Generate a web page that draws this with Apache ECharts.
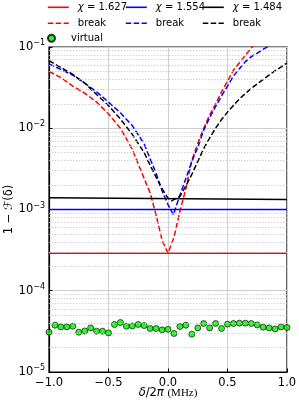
<!DOCTYPE html>
<html>
<head>
<meta charset="utf-8">
<script src="https://cdn.jsdelivr.net/npm/echarts@6/dist/echarts.min.js"></script>
<style>
html,body{margin:0;padding:0;background:#fff;}
#c{width:299px;height:403px;}
</style>
</head>
<body>
<div id="c"></div>
<script>
// ---- data ----
const solidX = [-1.0, 1.0];
const redSolidY = [2.9e-4, 2.9e-4];
const blueSolidY = [1.0e-3, 1.0e-3];
const blackSolidY = [1.40e-3, 1.33e-3];

const redDashX = [-1.0,-0.9,-0.8,-0.7,-0.6,-0.5,-0.4,-0.3,-0.2,-0.15,-0.1,-0.05,0.0,0.05,0.1,0.15,0.2,0.25,0.3,0.35,0.4,0.45,0.5,0.55,0.6,0.65,0.7,0.75];
const redDashY = [5.0e-2,4.2e-2,3.3e-2,2.7e-2,2.1e-2,1.5e-2,1.0e-2,5.5e-3,2.4e-3,1.6e-3,8.5e-4,4.2e-4,2.9e-4,4.5e-4,9.5e-4,1.8e-3,4.0e-3,6.5e-3,1.0e-2,1.45e-2,2.0e-2,2.8e-2,3.8e-2,5.2e-2,6.4e-2,7.9e-2,9.7e-2,1.15e-1];

const blueDashX = [-1.0,-0.9,-0.8,-0.7,-0.6,-0.5,-0.4,-0.3,-0.2,-0.15,-0.1,-0.05,0.0,0.045,0.1,0.15,0.2,0.25,0.3,0.35,0.4,0.45,0.5,0.55,0.6,0.65,0.7,0.75,0.8,0.85];
const blueDashY = [6.2e-2,5.3e-2,4.5e-2,3.6e-2,2.8e-2,2.1e-2,1.55e-2,1.08e-2,6.4e-3,4.2e-3,2.8e-3,1.7e-3,1.15e-3,8.6e-4,1.5e-3,2.4e-3,3.9e-3,5.8e-3,9.5e-3,1.35e-2,1.85e-2,2.5e-2,3.3e-2,4.4e-2,5.4e-2,6.6e-2,7.6e-2,8.4e-2,9.4e-2,1.03e-1];

const blackDashX = [-1.0,-0.9,-0.8,-0.7,-0.6,-0.5,-0.4,-0.3,-0.2,-0.15,-0.1,-0.05,0.0,0.03,0.1,0.15,0.2,0.25,0.3,0.35,0.4,0.45,0.5,0.6,0.7,0.8,0.9,1.0];
const blackDashY = [6.8e-2,5.6e-2,4.6e-2,3.6e-2,2.6e-2,1.9e-2,1.3e-2,8.4e-3,5.0e-3,3.5e-3,2.5e-3,1.8e-3,1.38e-3,1.28e-3,1.45e-3,1.95e-3,2.7e-3,3.9e-3,5.6e-3,7.6e-3,1.0e-2,1.28e-2,1.58e-2,2.3e-2,3.1e-2,4.0e-2,5.1e-2,6.35e-2];

const virtualX = [-1.0,-0.95,-0.9,-0.85,-0.8,-0.75,-0.7,-0.65,-0.6,-0.55,-0.5,-0.45,-0.4,-0.35,-0.3,-0.25,-0.2,-0.15,-0.1,-0.05,0.0,0.05,0.1,0.15,0.2,0.25,0.3,0.35,0.4,0.45,0.5,0.55,0.6,0.65,0.7,0.75,0.8,0.85,0.9,0.95,1.0];
const virtualY = [3.09e-5,3.77e-5,3.59e-5,3.59e-5,3.66e-5,3.09e-5,3.20e-5,3.49e-5,3.18e-5,3.18e-5,3.03e-5,3.84e-5,4.07e-5,3.66e-5,3.69e-5,3.84e-5,3.73e-5,3.43e-5,3.43e-5,3.30e-5,3.36e-5,2.98e-5,3.63e-5,3.77e-5,2.92e-5,3.49e-5,3.95e-5,3.49e-5,3.95e-5,3.43e-5,3.88e-5,3.95e-5,3.99e-5,3.99e-5,3.95e-5,3.80e-5,3.56e-5,3.49e-5,3.39e-5,3.59e-5,3.53e-5];

const minorGridVals = [];
[-5,-4,-3,-2].forEach(function(e){ for (let m=2;m<=9;m++) minorGridVals.push(m*Math.pow(10,e)); });

function zip(xs, ys){ return xs.map(function(x,i){ return [x, ys[i]]; }); }

const FONT = 'DejaVu Sans';
const dash = [5.5, 2.4];

const legendNames = {
  'chi1627': '{i|χ} = 1.627', 'chi1554': '{i|χ} = 1.554', 'chi1484': '{i|χ} = 1.484',
  'break1': 'break', 'break2': 'break', 'break3': 'break', 'virtual': 'virtual'
};
const legendRich = { i: { fontFamily: FONT, fontStyle: 'italic', fontSize: 10 } };
function mkLegend(left, top, names, ih, hideSymbol){
  const l = {
    left: left, top: top, orient: 'vertical', padding: 0,
    itemWidth: 21, itemHeight: ih, itemGap: 4,
    data: names,
    formatter: function(n){ return legendNames[n]; },
    textStyle: { fontFamily: FONT, fontSize: 10, color: '#000', lineHeight: 12, padding: [0,0,0,4], rich: legendRich },
    selectedMode: false
  };
  if (hideSymbol) {
    l.itemStyle = { color: 'rgba(0,0,0,0)', borderColor: 'rgba(0,0,0,0)', borderWidth: 0 };
    l.lineStyle = { width: 1.6 };
  }
  return l;
}

const chart = echarts.init(document.getElementById('c'), null, {renderer: 'canvas'});
const option = {
  animation: false,
  backgroundColor: '#fff',
  legend: [
    mkLegend(47, 1.3, ['chi1627','break1'], 12, true),
    mkLegend(125, 1.3, ['chi1554','break2'], 12, true),
    mkLegend(202, 1.3, ['chi1484','break3'], 12, true),
    mkLegend(47, 32.3, ['virtual'], 7, false)
  ],
  grid: { left: 49, right: 12, top: 47, bottom: 31, containLabel: false, outerBoundsMode: 'none',
          show: true, borderColor: '#000', borderWidth: 1.2, backgroundColor: 'transparent' },
  xAxis: {
    type: 'value', min: -1, max: 1, interval: 0.5,
    axisLine: { show: true, onZero: false, lineStyle: { color: '#000', width: 1.2 } },
    axisTick: { show: true, inside: true, length: 3.5, lineStyle: { color: '#000' } },
    axisLabel: { fontFamily: FONT, fontSize: 11.5, color: '#000', margin: 5,
      formatter: function(v){ return (v < 0 ? '\u2212' : '') + Math.abs(v).toFixed(1); } },
    splitLine: { show: true, lineStyle: { color: '#cfcfcf', width: 1 } },
    name: '{d|δ}{n|/2}{d|π} {m|(MHz)}',
    nameLocation: 'middle', nameGap: 15, nameMoveOverlap: false,
    nameTextStyle: { fontFamily: FONT, fontSize: 11.5, color: '#000',
      rich: { d: { fontFamily: FONT, fontStyle: 'italic', fontSize: 11.5 },
              n: { fontFamily: FONT, fontSize: 11.5 },
              m: { fontFamily: 'Liberation Serif', fontSize: 11 } } }
  },
  yAxis: {
    type: 'log', logBase: 10, min: 1e-5, max: 1e-1,
    axisLine: { show: true, onZero: false, lineStyle: { color: '#000', width: 1.2 } },
    axisTick: { show: true, inside: true, length: 3.5, lineStyle: { color: '#000' } },
    axisLabel: { fontFamily: FONT, fontSize: 11.5, color: '#000', margin: 4,
      formatter: function(v){ const e = Math.round(Math.log10(v)); return '10{s|' + (e < 0 ? '\u2212' : '') + Math.abs(e) + '}'; },
      rich: { s: { fontFamily: FONT, fontSize: 8, verticalAlign: 'top', padding: [0,0,8,0] } } },
    splitLine: { show: true, lineStyle: { color: '#cfcfcf', width: 1 } },
    name: '1 \u2212 {f|ℱ}(δ)',
    nameLocation: 'middle', nameGap: 34, nameRotate: 90, nameMoveOverlap: false,
    nameTextStyle: { fontFamily: FONT, fontSize: 11.5, color: '#000',
      rich: { f: { fontFamily: FONT, fontStyle: 'italic', fontSize: 11.5 } } }
  },
  series: [
    { name: 'minor', type: 'line', data: [[-1, 1e-3]], symbol: 'none', silent: true, lineStyle: { opacity: 0 }, z: 0,
      markLine: { silent: true, symbol: 'none', precision: 12, label: { show: false },
        lineStyle: { type: [1.5, 1.5], color: '#c8c8c8', width: 0.8 },
        data: minorGridVals.map(function(v){ return { yAxis: v }; }) } },
    { name: 'chi1627', type: 'line', data: zip(solidX, redSolidY), symbol: 'none', lineStyle: { color: '#ff0000', width: 1.5 }, itemStyle: { color: '#ff0000' } },
    { name: 'break1', type: 'line', data: zip(redDashX, redDashY), symbol: 'none', lineStyle: { color: '#ff0000', width: 1.5, type: dash }, itemStyle: { color: '#ff0000' } },
    { name: 'chi1554', type: 'line', data: zip(solidX, blueSolidY), symbol: 'none', lineStyle: { color: '#0000ff', width: 1.5 }, itemStyle: { color: '#0000ff' } },
    { name: 'break2', type: 'line', data: zip(blueDashX, blueDashY), symbol: 'none', lineStyle: { color: '#0000ff', width: 1.5, type: dash }, itemStyle: { color: '#0000ff' } },
    { name: 'chi1484', type: 'line', data: zip(solidX, blackSolidY), symbol: 'none', lineStyle: { color: '#000000', width: 1.5 }, itemStyle: { color: '#000000' } },
    { name: 'break3', type: 'line', data: zip(blackDashX, blackDashY), symbol: 'none', lineStyle: { color: '#000000', width: 1.5, type: dash }, itemStyle: { color: '#000000' } },
    { name: 'virtual', type: 'scatter', data: zip(virtualX, virtualY), symbol: 'circle', symbolSize: 6, clip: false,
      itemStyle: { color: '#00ee00', borderColor: '#000', borderWidth: 0.8 } }
  ]
};
chart.setOption(option);
</script>
</body>
</html>
